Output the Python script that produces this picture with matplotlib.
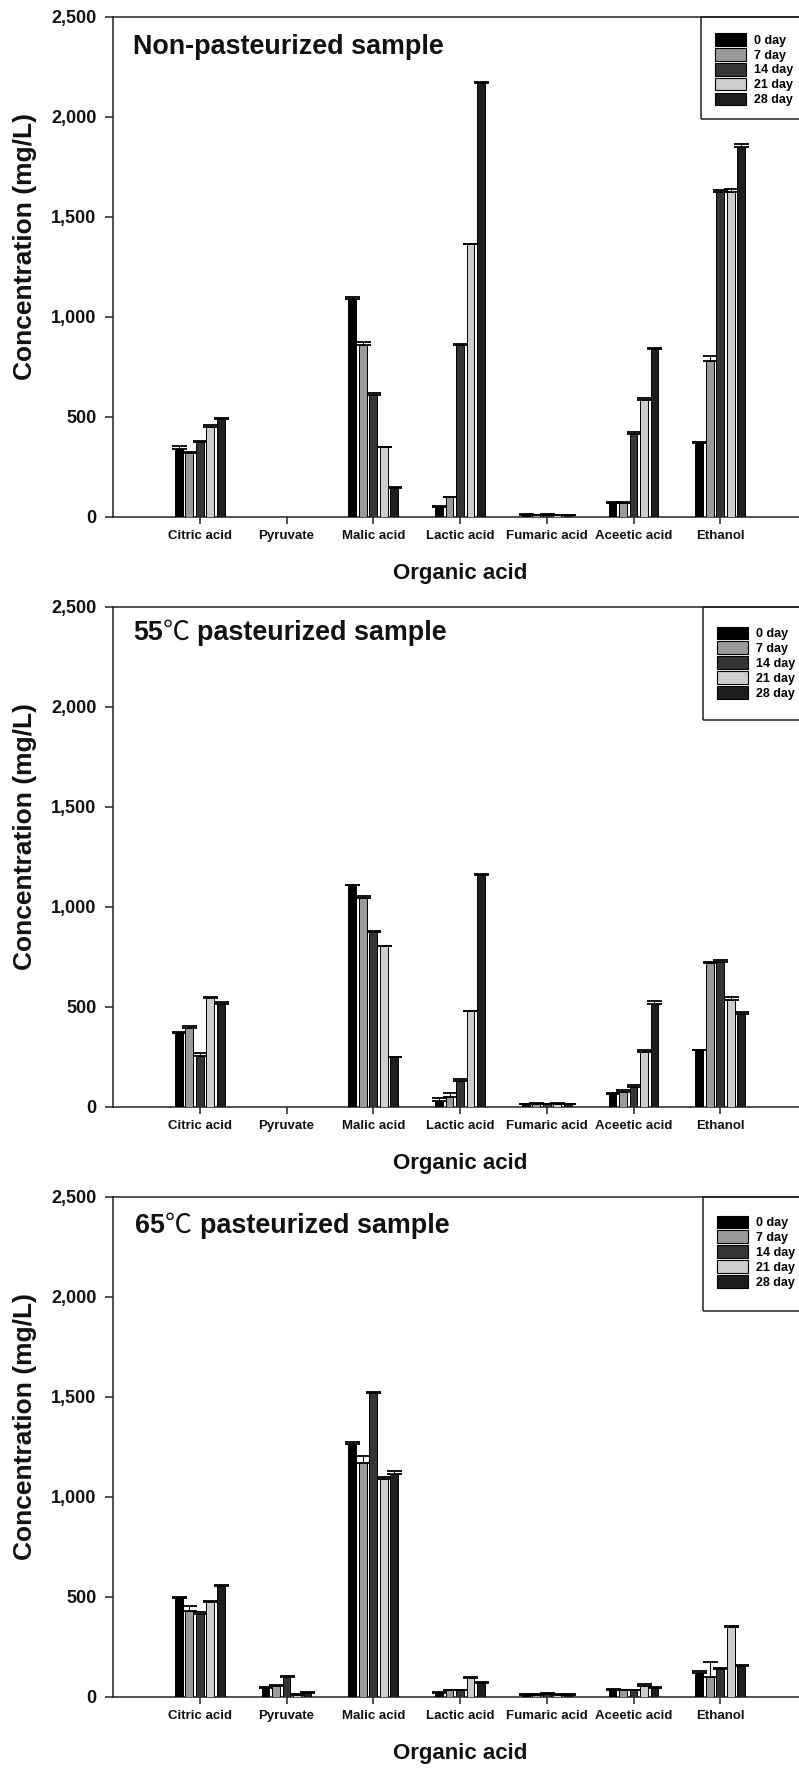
import matplotlib
matplotlib.use('Agg')
import matplotlib.pyplot as plt
from matplotlib.patches import Patch, Rectangle
import numpy as np

plt.rcParams['font.family'] = ['Liberation Sans', 'DejaVu Sans']
plt.rcParams['font.weight'] = 'bold'

W, H = 799, 1773
DPI = 100

categories = ['Citric acid', 'Pyruvate', 'Malic acid', 'Lactic acid',
              'Fumaric acid', 'Aceetic acid', 'Ethanol']
day_labels = ['0 day', '7 day', '14 day', '21 day', '28 day']
yticks = [0, 500, 1000, 1500, 2000, 2500]

# ---- Non-pasteurized sample (mean values, mg/L) ----
non_d0 = [338, 0, 1089, 50, 10, 70, 370]
non_d7 = [318, 0, 858, 97, 8, 70, 780]
non_d14 = [375, 0, 611, 858, 10, 413, 1626]
non_d21 = [450, 0, 349, 1362, 8, 584, 1626]
non_d28 = [488, 0, 145, 2168, 8, 838, 1848]
# upper error (SD)
non_e0 = [14, 0, 11, 2, 2, 3, 3]
non_e7 = [6, 0, 15, 3, 1, 3, 24]
non_e14 = [3, 0, 8, 7, 2, 12, 10]
non_e21 = [11, 0, 2, 4, 1, 12, 12]
non_e28 = [5, 0, 2, 6, 1, 5, 14]

# ---- 55 C pasteurized sample ----
p55_d0 = [368, 0, 1106, 29, 12, 63, 283]
p55_d7 = [391, 0, 1043, 48, 15, 75, 716]
p55_d14 = [253, 0, 874, 127, 12, 98, 722]
p55_d21 = [543, 0, 802, 478, 15, 271, 535]
p55_d28 = [512, 0, 246, 1158, 12, 514, 461]
p55_e0 = [5, 0, 2, 16, 2, 3, 2]
p55_e7 = [12, 0, 12, 21, 2, 7, 6]
p55_e14 = [17, 0, 3, 13, 2, 12, 9]
p55_e21 = [3, 0, 2, 2, 2, 12, 12]
p55_e28 = [12, 0, 2, 5, 2, 16, 11]

# ---- 65 C pasteurized sample ----
p65_d0 = [492, 43, 1264, 16, 10, 35, 120]
p65_d7 = [429, 55, 1166, 32, 10, 32, 100]
p65_d14 = [412, 100, 1518, 32, 15, 32, 139]
p65_d21 = [475, 10, 1088, 94, 10, 55, 349]
p65_d28 = [553, 18, 1111, 70, 10, 45, 153]
p65_e0 = [8, 4, 9, 6, 2, 3, 9]
p65_e7 = [24, 3, 35, 3, 2, 3, 74]
p65_e14 = [13, 2, 4, 3, 2, 3, 2]
p65_e21 = [3, 3, 10, 6, 2, 6, 3]
p65_e28 = [4, 7, 16, 5, 2, 2, 6]

bar_colors = ['#000000', '#9a9a9a', '#353535', '#cecece', '#1e1e1e']

LS = ['Liberation Sans', 'DejaVu Sans']
CJK = ['Noto Sans CJK KR', 'DejaVu Sans']

panels = [
    dict(vals=[non_d0, non_d7, non_d14, non_d21, non_d28],
         errs=[non_e0, non_e7, non_e14, non_e21, non_e28],
         top=16.7,
         title=[("Non-pasteurized sample", 133, LS, 'bold')], base=54,
         leg=dict(box_left=701, box_h=102, patch_top=16.3, patch_left=715)),
    dict(vals=[p55_d0, p55_d7, p55_d14, p55_d21, p55_d28],
         errs=[p55_e0, p55_e7, p55_e14, p55_e21, p55_e28],
         top=606.5,
         title=[("55", 133, LS, 'bold'), ("\u2103", 163, CJK, 'normal'),
                ("pasteurized sample", 197, LS, 'bold')], base=640,
         leg=dict(box_left=703, box_h=113, patch_top=20, patch_left=717)),
    dict(vals=[p65_d0, p65_d7, p65_d14, p65_d21, p65_d28],
         errs=[p65_e0, p65_e7, p65_e14, p65_e21, p65_e28],
         top=1196.5,
         title=[("65", 135, LS, 'bold'), ("\u2103", 165, CJK, 'normal'),
                ("pasteurized sample", 200, LS, 'bold')], base=1233,
         leg=dict(box_left=703, box_h=114, patch_top=19, patch_left=717)),
]

fig = plt.figure(figsize=(W / DPI, H / DPI), dpi=DPI)

AX_LEFT = 113
AX_W = 694
AX_H = 500
LW = 1.1
TXT = '#111111'

step = 0.121
bw = 0.088
x = np.arange(len(categories))

for p in panels:
    top = p['top']
    ax = fig.add_axes([AX_LEFT / W, 1 - (top + AX_H) / H, AX_W / W, AX_H / H])
    for i, (v, e) in enumerate(zip(p['vals'], p['errs'])):
        v = np.array(v, dtype=float)
        e = np.array(e, dtype=float)
        xi = x + (i - 2) * step
        m = v > 0
        ax.bar(xi[m], v[m], width=bw, color=bar_colors[i], edgecolor='black',
               linewidth=0.7, zorder=3)
        ax.errorbar(xi[m], v[m], yerr=[np.zeros(m.sum()), e[m]], fmt='none',
                    ecolor='black', elinewidth=0.8, capsize=5.4, capthick=1.3,
                    zorder=2)
    ax.set_xlim(-1, 7)
    ax.set_ylim(0, 2500)
    ax.set_xticks(x)
    ax.set_xticklabels(categories, fontsize=9.5, fontweight='bold', color=TXT)
    ax.set_yticks(yticks)
    ax.set_yticklabels([f"{t:,}" for t in yticks], fontsize=13,
                       fontweight='bold', color=TXT)
    ax.tick_params(axis='y', direction='out', length=5.8, width=LW, pad=6,
                   color='#222222')
    ax.tick_params(axis='x', direction='out', length=5, width=LW, pad=4.5,
                   color='#222222')
    for s in ['left', 'bottom', 'top']:
        ax.spines[s].set_linewidth(LW)
        ax.spines[s].set_color('#222222')
    ax.spines['right'].set_visible(False)

    ax.text((460 - AX_LEFT) / AX_W, -(56.5) / AX_H, 'Organic acid',
            transform=ax.transAxes, ha='center', va='center', fontsize=16,
            fontweight='bold', color=TXT)
    ax.text((25 - AX_LEFT) / AX_W, 0.54, 'Concentration (mg/L)',
            transform=ax.transAxes, ha='center', va='center', rotation=90,
            fontsize=19, fontweight='bold', color=TXT)

    for s, xp, fam, wt in p['title']:
        fig.text(xp / W, 1 - p['base'] / H, s, ha='left', va='baseline',
                 fontsize=19.4, family=fam, fontweight=wt, color=TXT)

    lg = p['leg']
    bx = (lg['box_left'] - AX_LEFT) / AX_W
    bh = lg['box_h'] / AX_H
    ax.add_patch(Rectangle((bx, 1 - bh), 0.5, bh, transform=ax.transAxes,
                           fill=False, edgecolor='#222222', linewidth=LW,
                           clip_on=False, zorder=5))
    handles = [Patch(facecolor=c, edgecolor='black', linewidth=0.8)
               for c in bar_colors]
    ax.legend(handles, day_labels, loc='upper left',
              bbox_to_anchor=((lg['patch_left'] - AX_LEFT) / AX_W,
                              1 - lg['patch_top'] / AX_H),
              bbox_transform=ax.transAxes, frameon=False, borderpad=0,
              borderaxespad=0, handlelength=2.5, handleheight=1.2,
              labelspacing=0.1, handletextpad=0.6,
              prop=dict(size=9, weight='bold', family=LS))

fig.savefig('out.png', dpi=DPI)
